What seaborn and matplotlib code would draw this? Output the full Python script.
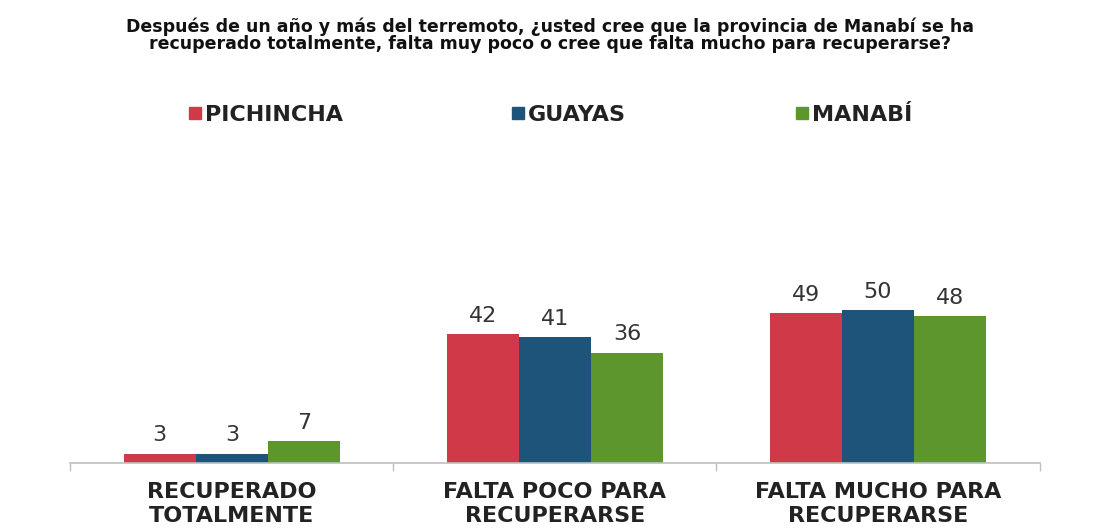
import matplotlib
matplotlib.use("Agg")
import matplotlib.pyplot as plt
import seaborn as sns
import pandas as pd
from matplotlib.lines import Line2D

# Survey data (percentages)
categories = ["RECUPERADO\nTOTALMENTE", "FALTA POCO PARA\nRECUPERARSE", "FALTA MUCHO PARA\nRECUPERARSE"]
provinces = ["PICHINCHA", "GUAYAS", "MANABÍ"]
pichincha = [3, 42, 49]
guayas = [3, 41, 50]
manabi = [7, 36, 48]
colors = ["#D03A48", "#1F547A", "#5E962E"]

title = ("Después de un año y más del terremoto, ¿usted cree que la provincia de Manabí se ha\n"
         "recuperado totalmente, falta muy poco o cree que falta mucho para recuperarse?")

sns.set_theme(style="white")
plt.rcParams["font.family"] = ["DejaVu Sans"]

df = pd.DataFrame({
    "categoria": categories * 3,
    "provincia": [p for p in provinces for _ in categories],
    "valor": pichincha + guayas + manabi,
})

fig = plt.figure(figsize=(11, 5.29), dpi=100)
ax = fig.add_axes([0.064, 0.125, 0.881, 0.347])

sns.barplot(data=df, x="categoria", y="valor", hue="provincia", order=categories,
            hue_order=provinces, palette=colors, width=0.67, saturation=1,
            edgecolor="none", legend=False, ax=ax)

for cont in ax.containers:
    ax.bar_label(cont, fmt="%d", padding=6, fontsize=16, color="#333333")

ax.set_xlim(-0.5, 2.5)
ax.set_ylim(0, 60)
ax.set_xlabel("")
ax.set_ylabel("")
ax.set_yticks([])
for s in ["left", "right", "top"]:
    ax.spines[s].set_visible(False)
ax.spines["bottom"].set_color("#BFBFBF")
ax.spines["bottom"].set_linewidth(1.2)

# small tick marks between the categories
ax.set_xticks([-0.5, 0.5, 1.5, 2.5], minor=True)
ax.tick_params(axis="x", which="minor", bottom=True, length=6, color="#BFBFBF", width=1)
ax.tick_params(axis="x", which="major", bottom=False, pad=8)
ax.set_xticklabels(categories, fontsize=16, fontweight="bold", color="#222222", linespacing=1.25)

fig.text(0.5, 0.933, title, ha="center", va="center", fontsize=12.5,
         fontweight="bold", color="#111111", linespacing=0.92)

handles = [Line2D([0], [0], marker="s", linestyle="none", markersize=8,
                  markerfacecolor=c, markeredgecolor=c) for c in colors]
fig.legend(handles, provinces, loc="center", bbox_to_anchor=(0.5, 0.783), ncol=3,
           frameon=False, handletextpad=0.15, columnspacing=7.6, handlelength=0.6,
           prop={"weight": "bold", "size": 16})
for t in fig.legends[0].get_texts():
    t.set_color("#222222")

fig.savefig("out.png", dpi=100)
